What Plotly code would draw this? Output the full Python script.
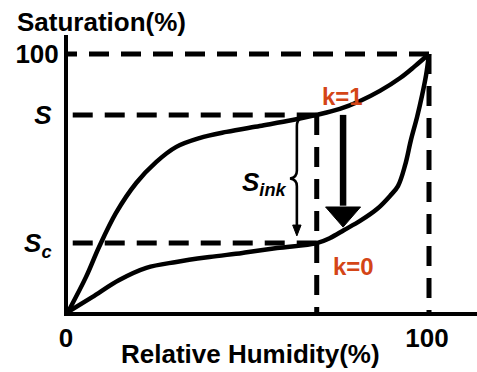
import plotly.graph_objects as go

# ---- data ----
RH_DESORPTION = [0, 5.0, 8.6, 13.3, 18.9, 24.4, 30.0, 36.4, 43.9, 53.1, 62.2, 68.9, 75.3, 80.9, 86.4, 92.0, 96.1, 100]
SAT_DESORPTION = [0, 13.6, 25.2, 38.4, 50.0, 58.1, 64.0, 67.4, 69.8, 72.1, 74.4, 76.4, 78.7, 81.8, 85.7, 90.7, 95.3, 100]

RH_ADSORPTION = [0, 6.7, 14.2, 21.7, 30.0, 39.2, 48.3, 57.9, 68.9, 72.6, 76.5, 80.9, 85.6, 89.2, 91.4, 93.4, 95.0, 96.7, 98.1, 99.2, 100]
SAT_ADSORPTION = [0, 5.8, 12.4, 17.1, 19.4, 21.3, 22.9, 24.8, 26.7, 28.7, 31.8, 35.3, 39.9, 45.0, 48.8, 57.0, 66.7, 75.6, 84.1, 91.9, 100]

FULL = 100
S_LEVEL = 76.4
SC_LEVEL = 26.7
RH_K = 68.9
ARROW_RH = 76.2
ARROW_HEAD_BASE = 40.7
ARROW_TIP = 32.9

X_TICKS = [0, 100]
X_TICK_TEXT = ["0", "100"]
Y_TICKS = [SC_LEVEL, S_LEVEL, FULL]
Y_TICK_TEXT = ["<i>S<sub>c</sub></i>&nbsp;", "<i>S</i>&nbsp;", "100"]

FONT = "Liberation Sans, Arial, sans-serif"
ORANGE = "#D44517"

W, H = 477, 372
ML, MR, MT, MB = 68, 0, 35, 60
PX_X = 3.61
PX_Y = 2.58
plot_w = W - ML - MR
plot_h = H - MT - MB

fig = go.Figure()

fig.add_trace(go.Scatter(x=RH_DESORPTION, y=SAT_DESORPTION, mode="lines",
                         line=dict(color="black", width=4.5, shape="spline", smoothing=1),
                         cliponaxis=False, hoverinfo="skip"))
fig.add_trace(go.Scatter(x=RH_ADSORPTION, y=SAT_ADSORPTION, mode="lines",
                         line=dict(color="black", width=4.5, shape="spline", smoothing=1),
                         cliponaxis=False, hoverinfo="skip"))

dash = dict(color="black", width=5, dash="20px,12px")
# horizontal dashed guides (drawn from right end to left)
for y_lvl, x_end in [(FULL, FULL), (S_LEVEL, RH_K), (SC_LEVEL, RH_K)]:
    fig.add_shape(type="line", x0=x_end, y0=y_lvl, x1=0, y1=y_lvl, line=dash, layer="below")
# vertical dashed guides (from top down)
for x_lvl, y_top in [(RH_K, S_LEVEL), (FULL, FULL)]:
    fig.add_shape(type="line", x0=x_lvl, y0=y_top, x1=x_lvl, y1=0, line=dash, layer="below")

# big arrow k=1 -> k=0
fig.add_shape(type="line", x0=ARROW_RH, y0=S_LEVEL, x1=ARROW_RH, y1=ARROW_HEAD_BASE + 0.5,
              line=dict(color="black", width=6.5))
hw = 17.5 / PX_X
fig.add_shape(type="path",
              path=f"M {ARROW_RH-hw},{ARROW_HEAD_BASE} L {ARROW_RH+hw},{ARROW_HEAD_BASE} L {ARROW_RH},{ARROW_TIP} Z",
              fillcolor="black", line=dict(color="black", width=1))

# brace for S_ink
bx = RH_K - 5.5
top = S_LEVEL - 2.6
bot = SC_LEVEL + 2.8
mid = (S_LEVEL + SC_LEVEL) / 2 + 0.2
cusp = bx - 1.9
brace = (f"M {bx+1.2},{top+1.4} Q {bx},{top+0.8} {bx},{top-1.8} "
         f"L {bx},{mid+3} Q {bx},{mid+0.3} {cusp},{mid} "
         f"Q {bx},{mid-0.3} {bx},{mid-3} L {bx},{bot+3}")
fig.add_shape(type="path", path=brace, line=dict(color="black", width=2.6))
ahw = 4.2 / PX_X
fig.add_shape(type="path",
              path=f"M {bx-ahw},{bot+4.2} L {bx+ahw},{bot+4.2} L {bx},{bot} Z",
              fillcolor="black", line=dict(color="black", width=1))

# text labels
fig.add_annotation(x=54.3, y=50, xref="x", yref="y", text="<b><i>S<sub>ink</sub></i></b>",
                   showarrow=False, font=dict(family=FONT, size=26, color="black"))
fig.add_annotation(x=75.9, y=83.7, xref="x", yref="y", text="<b>k=1</b>",
                   showarrow=False, font=dict(family=FONT, size=24, color=ORANGE))
fig.add_annotation(x=79.2, y=17.8, xref="x", yref="y", text="<b>k=0</b>",
                   showarrow=False, font=dict(family=FONT, size=24, color=ORANGE))

fig.add_annotation(x=(15 - ML) / plot_w, y=(H - MB - 22) / plot_h, xref="paper", yref="paper",
                   xanchor="left", yanchor="middle", text="<b>Saturation(%)</b>",
                   showarrow=False, font=dict(family=FONT, size=26, color="black"))
fig.add_annotation(x=(250 - ML) / plot_w, y=(H - MB - 354) / plot_h, xref="paper", yref="paper",
                   xanchor="center", yanchor="middle", text="<b>Relative Humidity(%)</b>",
                   showarrow=False, font=dict(family=FONT, size=26, color="black"))

fig.update_layout(
    width=W, height=H,
    margin=dict(l=ML, r=MR, t=MT, b=MB),
    paper_bgcolor="white", plot_bgcolor="white",
    showlegend=False,
    xaxis=dict(range=[0, plot_w / PX_X], showgrid=False, zeroline=False,
               showline=True, linecolor="black", linewidth=4,
               tickmode="array", tickvals=X_TICKS, ticktext=X_TICK_TEXT, ticks="",
               tickfont=dict(family=FONT, size=26, color="black", weight="bold"),
               ticklabelstandoff=0, ticklabelshift=-2),
    yaxis=dict(range=[0, plot_h / PX_Y], showgrid=False, zeroline=False,
               showline=True, linecolor="black", linewidth=4,
               tickmode="array", tickvals=Y_TICKS, ticktext=Y_TICK_TEXT, ticks="",
               tickfont=dict(family=FONT, size=26, color="black", weight="bold"),
               ticklabelstandoff=0),
)

fig.write_html("out.html")
